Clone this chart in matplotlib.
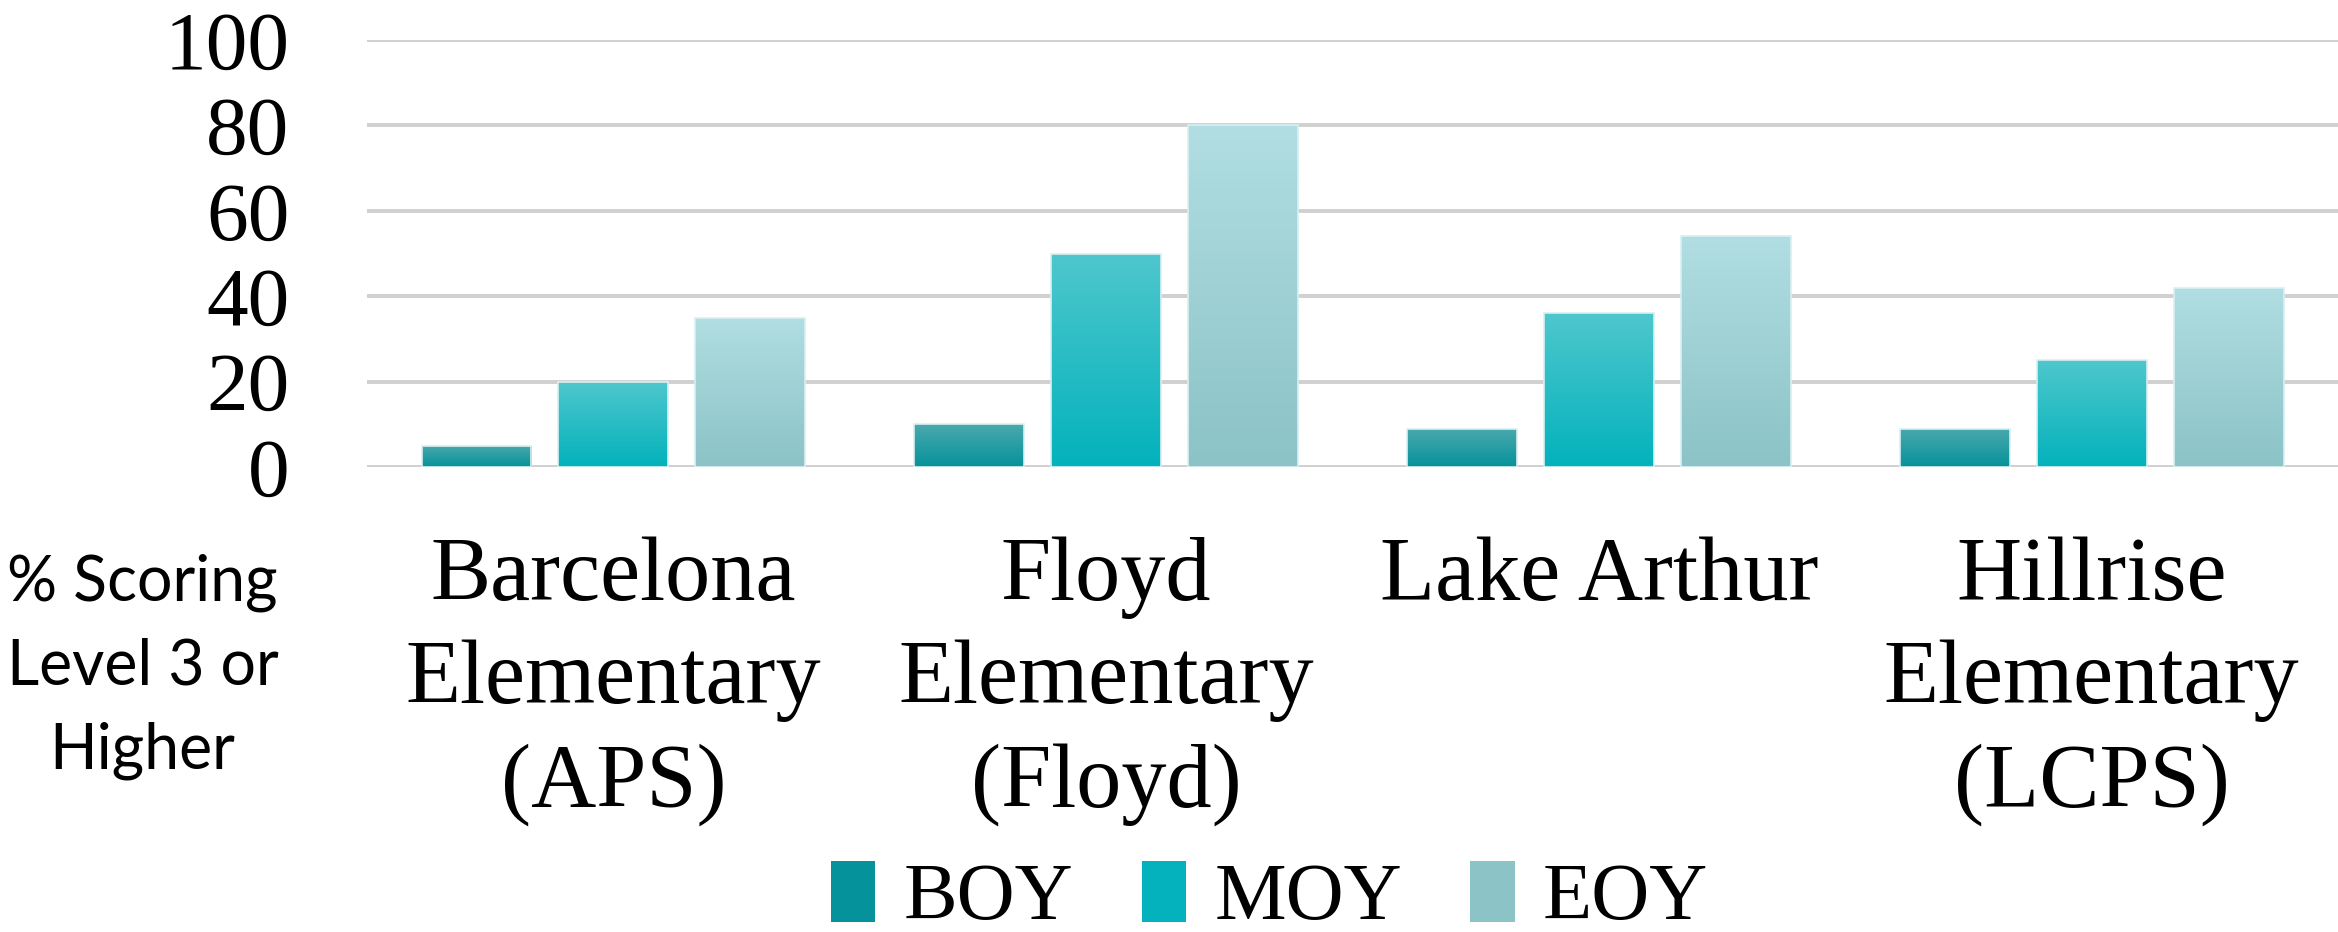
import numpy as np
import matplotlib
matplotlib.use("Agg")
import matplotlib.pyplot as plt
from matplotlib.colors import LinearSegmentedColormap
from matplotlib.patches import Patch

# data
schools = ["Barcelona\nElementary\n(APS)", "Floyd\nElementary\n(Floyd)",
           "Lake Arthur", "Hillrise\nElementary\n(LCPS)"]
periods = ["BOY", "MOY", "EOY"]
boy = [5, 10, 9, 9]
moy = [20, 50, 36, 25]
eoy = [35, 80, 54, 42]
yticks = [0, 20, 40, 60, 80, 100]

# (top colour, bottom colour) for each series gradient
grads = [("#4aa9ae", "#06929a"), ("#4ec7cd", "#03b2bc"), ("#b1dee2", "#8bc3c6")]

serif = "Liberation Serif"

fig = plt.figure(figsize=(23.38, 9.32), dpi=100)
ax = fig.add_axes([0.157, 0.499, 0.843, 0.458])

x = np.arange(len(schools))
width = 0.223
step = 0.278

for i, vals in enumerate([boy, moy, eoy]):
    bars = ax.bar(x + (i - 1) * step, vals, width, color="none",
                  edgecolor="#d8f0f2", linewidth=1.2, zorder=3)
    cmap = LinearSegmentedColormap.from_list("g%d" % i, [grads[i][1], grads[i][0]])
    grad = np.linspace(0, 1, 256).reshape(-1, 1)
    for b in bars:
        x0, y0 = b.get_x(), b.get_y()
        im = ax.imshow(grad, cmap=cmap, origin="lower", aspect="auto",
                       extent=[x0, x0 + b.get_width(), y0, y0 + b.get_height()],
                       zorder=2)
        im.set_clip_path(b)

ax.set_xlim(-0.5, len(schools) - 0.5)
ax.set_ylim(0, 100)
ax.set_yticks(yticks)
ax.set_yticklabels([str(t) for t in yticks], fontfamily=serif, fontsize=60)
ax.tick_params(axis="y", length=0, pad=56)
ax.set_xticks(x)
ax.set_xticklabels(schools, fontfamily=serif, fontsize=65, linespacing=1.33)
ax.tick_params(axis="x", length=0, pad=50)

ax.grid(axis="y", color="#d0d0d0", linewidth=2.8, zorder=0)
ax.set_axisbelow(True)
for s in ax.spines.values():
    s.set_visible(False)

fig.text(0.061, 0.285, "% Scoring\nLevel 3 or\nHigher", ha="center", va="center",
         fontfamily="Lato", fontsize=45, linespacing=1.55)

handles = [Patch(facecolor=grads[i][1], edgecolor="none") for i in range(3)]
fig.legend(handles, periods, loc="center", bbox_to_anchor=(0.543, 0.036),
           ncol=3, frameon=False, prop={"family": serif, "size": 58},
           handlelength=0.55, handleheight=0.8, handletextpad=0.35,
           columnspacing=0.85, borderpad=0)

fig.savefig("out.png", dpi=100)
